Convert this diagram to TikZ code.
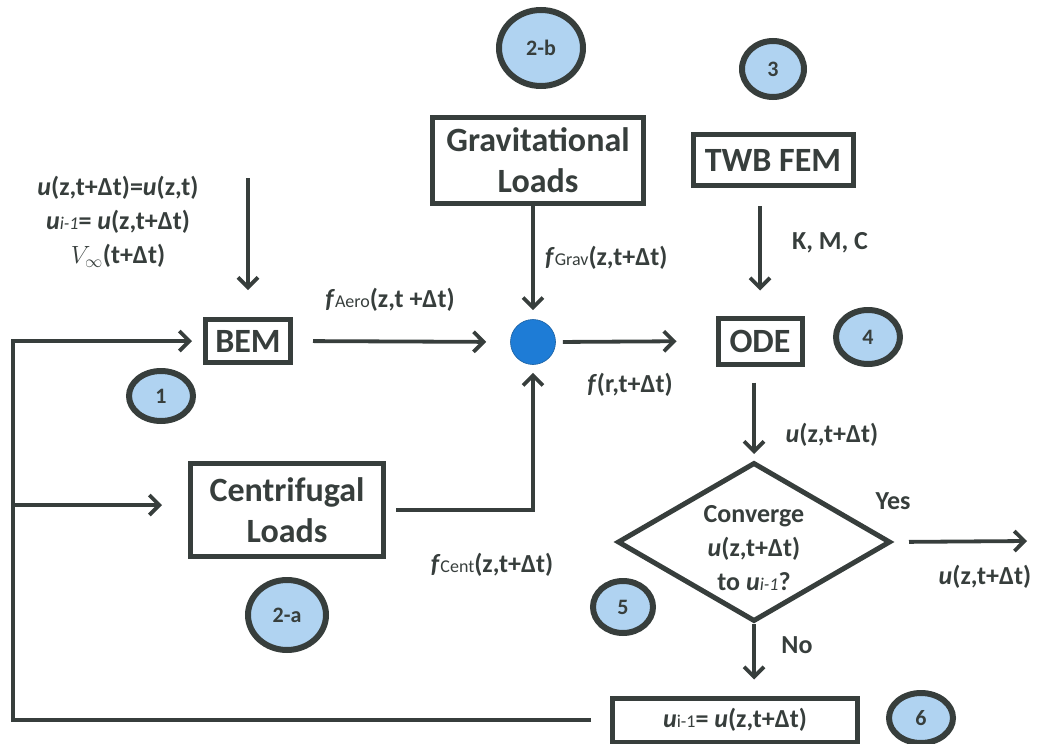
\documentclass[tikz,border=0pt]{standalone}
\usepackage{fontspec}
\setmainfont{Carlito}
\usepackage{xcolor}
\usetikzlibrary{shapes.geometric}
\usetikzlibrary{arrows.meta}

\definecolor{ink}{RGB}{55,62,60}
\definecolor{tagblue}{RGB}{176,211,241}
\definecolor{sumblue}{RGB}{30,124,214}

\newcommand{\lbl}{\fontsize{26}{34}\selectfont\bfseries}
\newcommand{\boxtxt}{\fontsize{34}{41}\selectfont\bfseries}
\newcommand{\tagtxt}{\fontsize{22}{24}\selectfont\bfseries}
\newcommand{\subtxt}[1]{{\fontsize{18}{18}\selectfont\mdseries #1}}
\newcommand{\uu}{\textit{u}}

\begin{document}
\begin{tikzpicture}[x=1pt,y=1pt,yscale=-1,xscale=1,color=ink,
  box/.style={draw=ink, line width=5pt, inner sep=0pt, align=center, font=\boxtxt},
  tag/.style={ellipse, draw=ink, line width=6pt, fill=tagblue, inner sep=0pt, font=\tagtxt},
  flow/.style={-{Straight Barb[length=10pt,width=20pt]}, line width=3.8pt},
  lab/.style={font=\lbl, inner sep=0pt}]
\useasboundingbox (0,0) rectangle (1045,744);

%Shape: Rectangle [blocks]
\node[box, minimum width=85pt, minimum height=43pt] (bem) at (248,341) {BEM};
\node[box, minimum width=211pt, minimum height=86pt] (grav) at (538,160) {Gravitational\\Loads};
\node[box, minimum width=160pt, minimum height=51pt] (twb) at (773,160) {TWB FEM};
\node[box, minimum width=84pt, minimum height=46pt] (ode) at (760,341) {ODE};
\node[box, minimum width=193pt, minimum height=93pt] (cent) at (287,510) {Centrifugal\\Loads};
\node[box, minimum width=245pt, minimum height=44pt, font=\lbl] (upd) at (735,720) {\uu\subtxt{i-1}= \uu(z,t+Δt)};

%Shape: Circle [summing point]
\node[circle, fill=sumblue, draw=sumblue!75!black, line width=0.6pt, minimum size=45pt, inner sep=0pt] (sum) at (533,342) {};

%Shape: Diamond [convergence test]
\node[diamond, draw=ink, line width=5pt, minimum width=273pt, minimum height=159pt, inner sep=0pt] (conv) at (754,542) {};
\node[lab, align=center] (convtxt) at (754,548) {Converge\\\uu(z,t+Δt)\\to \uu\subtxt{\itshape i-1}?};

%Shape: Ellipse [step tags]
\node[tag, minimum width=64pt, minimum height=50pt] (t1) at (161,396) {1};
\node[tag, minimum width=84pt, minimum height=76pt] (t2b) at (541,48) {2-b};
\node[tag, minimum width=62pt, minimum height=56pt] (t3) at (773,69) {3};
\node[tag, minimum width=64pt, minimum height=54pt] (t4) at (868,337) {4};
\node[tag, minimum width=78pt, minimum height=70pt] (t2a) at (287,615) {2-a};
\node[tag, minimum width=60pt, minimum height=52pt] (t5) at (623,607) {5};
\node[tag, minimum width=64pt, minimum height=50pt] (t6) at (921,718) {6};

% Text Node
\node[lab, align=center] (init) at (118,222) {\uu(z,t+Δt)=\uu(z,t)\\\uu\subtxt{\itshape i-1}= \uu(z,t+Δt)\\$V_\infty$(t+Δt)};
% Text Node
\node[lab] (faero) at (390,300) {\textit{f}\subtxt{Aero}(z,t +Δt)};
% Text Node
\node[lab, anchor=west] (fgrav) at (545,258) {\textit{f}\subtxt{Grav}(z,t+Δt)};
% Text Node
\node[lab] (fsum) at (630,385) {\textit{f}(r,t+Δt)};
% Text Node
\node[lab] (fcent) at (492,565) {\textit{f}\subtxt{Cent}(z,t+Δt)};
% Text Node
\node[lab] (kmc) at (830,243) {K, M, C};
% Text Node
\node[lab] (uode) at (832,435) {\uu(z,t+Δt)};
% Text Node
\node[lab] (yes) at (893,501) {Yes};
% Text Node
\node[lab] (uout) at (985,577) {\uu(z,t+Δt)};
% Text Node
\node[lab] (no) at (797,645) {No};

%Straight Lines [arrows]
\coordinate (inp) at (248,178);
\coordinate (out) at (1027,541);
\coordinate (rail) at (13,505);
\draw[flow, shorten >=27pt] (inp) -- (bem.north);
\draw[flow, shorten <=20pt, shorten >=24pt] (bem.east) -- (sum.west);
\draw[flow, shorten >=9pt] (grav.south -| sum.north) -- (sum.north);
\draw[flow, shorten <=7pt, shorten >=39pt] (sum.east) -- (ode.west);
\draw[flow, shorten <=18pt, shorten >=25pt] (twb.south -| ode.north) -- (ode.north);
\draw[flow, shorten <=16pt, shorten >=6pt] (ode.south -| conv.north) -- (conv.north);
\draw[flow, shorten <=16pt] (conv.east) -- (out);
\draw[flow, shorten >=16pt] (conv.south) -- (conv.south |- upd.north);
\draw[flow, shorten <=19pt, shorten >=11pt] (upd.west) -| (rail) |- (bem.west);
\draw[flow, shorten >=26pt] (rail) -- (rail -| cent.west);
\draw[flow, shorten <=10pt, shorten >=8pt] (cent.east) -| (sum.south);

\end{tikzpicture}
\end{document}
